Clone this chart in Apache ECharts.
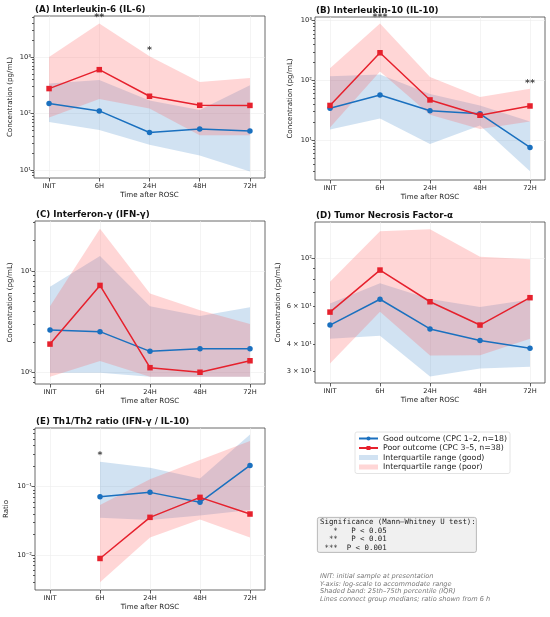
<!DOCTYPE html>
<html>
<head>
<meta charset="utf-8">
<script src="https://cdn.jsdelivr.net/npm/echarts@6/dist/echarts.min.js"></script>
<style>
  html, body { margin: 0; padding: 0; background: #fff; }
  #chart { width: 550px; height: 617px; }
</style>
</head>
<body>
<div id="chart"></div>
<script>
// Time points on the x axis
const timePoints = ['INIT', '6H', '24H', '48H', '72H'];

// (A) IL-6, pg/mL: median, 25th, 75th percentile
const il6GoodMed = [150, 111, 46, 53, 49];
const il6GoodLo = [71, 51, 28, 18, 9.4];
const il6GoodHi = [340, 390, 170, 115, 316];
const il6PoorMed = [276, 597, 202, 140, 139];
const il6PoorLo = [85, 180, 122, 41, 41];
const il6PoorHi = [1000, 3900, 1030, 360, 425];
const il6Sig = [[1, 5500, '**'], [2, 1430, '*']];

// (B) IL-10
const il10GoodMed = [34, 57, 31, 27.5, 7.5];
const il10GoodLo = [15, 23, 8.6, 17.5, 3.0];
const il10GoodHi = [117, 125, 59, 38, 20.5];
const il10PoorMed = [38, 290, 47, 26, 37.2];
const il10PoorLo = [16.2, 141, 26.6, 15.3, 20.5];
const il10PoorHi = [159, 900, 114, 52.5, 72];
const il10Sig = [[1, 1260, '***'], [4, 99, '**']];

// (C) IFN-gamma
const ifnGoodMed = [2.63, 2.53, 1.62, 1.72, 1.72];
const ifnGoodLo = [1.0, 1.0, 0.91, 0.91, 0.91];
const ifnGoodHi = [7.0, 14, 4.5, 3.6, 4.4];
const ifnPoorMed = [1.91, 7.2, 1.12, 1.01, 1.31];
const ifnPoorLo = [0.91, 1.3, 0.91, 0.91, 0.91];
const ifnPoorHi = [4.5, 26, 6.0, 4.1, 3.0];

// (D) TNF-alpha
const tnfGoodMed = [49.3, 64.9, 47.3, 41.8, 38.5];
const tnfGoodLo = [42.6, 44, 28.5, 31, 31.6];
const tnfGoodHi = [62, 77, 65, 59.7, 64.7];
const tnfPoorMed = [56.6, 88.6, 63.2, 49.3, 66];
const tnfPoorLo = [32.7, 56.8, 35.6, 35.7, 42.6];
const tnfPoorHi = [78.3, 134, 137, 102, 99.3];

// (E) Th1/Th2 ratio, no value at INIT
const ratioGoodMed = [null, 0.0714, 0.0826, 0.059, 0.205];
const ratioGoodLo = [null, 0.035, 0.0325, 0.038, 0.0455];
const ratioGoodHi = [null, 0.232, 0.19, 0.132, 0.58];
const ratioPoorMed = [null, 0.0089, 0.0356, 0.0698, 0.0398];
const ratioPoorLo = [null, 0.004, 0.018, 0.033, 0.018];
const ratioPoorHi = [null, 0.054, 0.128, 0.245, 0.466];
const ratioSig = [[1, 0.311, '*']];

const goodName = 'Good outcome (CPC 1–2, n=18)';
const poorName = 'Poor outcome (CPC 3–5, n=38)';
const bandGoodName = 'Interquartile range (good)';
const bandPoorName = 'Interquartile range (poor)';

const sigLines = [
    'Significance (Mann–Whitney U test):',
    '   *   P < 0.05',
    '  **   P < 0.01',
    ' ***  P < 0.001'
];
const noteLines = [
    'INIT: initial sample at presentation',
    'Y-axis: log-scale to accommodate range',
    'Shaded band: 25th–75th percentile (IQR)',
    'Lines connect group medians; ratio shown from 6 h'
];

const GOOD = '#1a70bf';
const POOR = '#e6212d';
const GOOD_BAND = 'rgba(26,112,191,0.2)';
const POOR_BAND = 'rgba(255,90,90,0.25)';
const FONT = 'DejaVu Sans';

const panels = [
    { title: '(A) Interleukin-6 (IL-6)', left: 34, top: 16, width: 231, height: 162,
      yMin: 0.858, yMax: 3.726, labels: [1, 2, 3], yName: 'Concentration (pg/mL)', nameGap: 20,
      good: [il6GoodMed, il6GoodLo, il6GoodHi], poor: [il6PoorMed, il6PoorLo, il6PoorHi], sig: il6Sig },
    { title: '(B) Interleukin-10 (IL-10)', left: 315, top: 17, width: 230, height: 163,
      yMin: 0.33, yMax: 3.062, labels: [1, 2, 3], yName: 'Concentration (pg/mL)', nameGap: 21,
      good: [il10GoodMed, il10GoodLo, il10GoodHi], poor: [il10PoorMed, il10PoorLo, il10PoorHi], sig: il10Sig },
    { title: '(C) Interferon-γ (IFN-γ)', left: 35, top: 221, width: 230, height: 163,
      yMin: -0.111, yMax: 1.49, labels: [0, 1], yName: 'Concentration (pg/mL)', nameGap: 21,
      good: [ifnGoodMed, ifnGoodLo, ifnGoodHi], poor: [ifnPoorMed, ifnPoorLo, ifnPoorHi], sig: [] },
    { title: '(D) Tumor Necrosis Factor-α', left: 315, top: 222, width: 230, height: 161,
      yMin: 1.4245, yMax: 2.17, labels: [Math.log10(30), Math.log10(40), Math.log10(60), 2],
      yName: 'Concentration (pg/mL)', nameGap: 33,
      good: [tnfGoodMed, tnfGoodLo, tnfGoodHi], poor: [tnfPoorMed, tnfPoorLo, tnfPoorHi], sig: [] },
    { title: '(E) Th1/Th2 ratio (IFN-γ / IL-10)', left: 35, top: 428, width: 230, height: 162,
      yMin: -2.512, yMax: -0.141, labels: [-2, -1], yName: 'Ratio', nameGap: 25,
      good: [ratioGoodMed, ratioGoodLo, ratioGoodHi], poor: [ratioPoorMed, ratioPoorLo, ratioPoorHi], sig: ratioSig }
];

const sup = { '-': '⁻', '0': '⁰', '1': '¹', '2': '²', '3': '³', '4': '⁴', '5': '⁵', '6': '⁶', '7': '⁷', '8': '⁸', '9': '⁹' };

function logLabel(v) {
    const e = Math.floor(v + 1e-6);
    const m = Math.round(Math.pow(10, v - e));
    const p = '10' + String(e).split('').map(c => sup[c]).join('');
    return m === 1 ? p : m + ' × ' + p;
}

function majorTicks(lo, hi) {
    const out = [];
    for (let e = Math.ceil(lo); e <= Math.floor(hi); e++) out.push(e);
    return out;
}

function minorTicks(lo, hi) {
    const out = [];
    for (let e = Math.floor(lo) - 1; e <= Math.ceil(hi); e++) {
        for (let k = 2; k <= 9; k++) {
            const v = e + Math.log10(k);
            if (v > lo && v < hi) out.push(v);
        }
    }
    return out;
}

// [x, log10(value)] pairs, skipping missing points
function toPoints(values) {
    const out = [];
    values.forEach((v, i) => { if (v != null) out.push([i, Math.log10(v)]); });
    return out;
}

function toBand(lo, hi) {
    const out = [];
    lo.forEach((v, i) => { if (v != null) out.push([i, Math.log10(v), Math.log10(hi[i])]); });
    return out;
}

// Draws the whole band as one polygon from the first item
function renderBand(params, api) {
    if (params.dataIndexInside !== 0) return null;
    const n = params.dataInsideLength;
    const top = [];
    const bottom = [];
    for (let j = 0; j < n; j++) {
        top.push(api.coord([api.value(0, j), api.value(2, j)]));
        bottom.unshift(api.coord([api.value(0, j), api.value(1, j)]));
    }
    return {
        type: 'polygon',
        shape: { points: top.concat(bottom) },
        style: { fill: api.visual('color') }
    };
}

const tickStyle = { color: '#333', width: 0.8 };
const gridLine = { color: '#ececec', width: 0.6 };

const option = {
    animation: false,
    backgroundColor: '#fff',
    textStyle: { fontFamily: FONT },
    title: [],
    grid: [],
    xAxis: [],
    yAxis: [],
    series: [],
    legend: {
        left: 355, top: 432, orient: 'vertical',
        itemGap: 1.5, itemWidth: 19, itemHeight: 5,
        padding: [2.5, 3, 2.5, 3],
        borderColor: '#dddddd', borderWidth: 0.8, borderRadius: 2,
        backgroundColor: '#fff',
        textStyle: { fontSize: 7.8, color: '#222', fontFamily: FONT },
        data: [
            { name: goodName },
            { name: poorName },
            { name: bandGoodName, icon: 'rect' },
            { name: bandPoorName, icon: 'rect' }
        ]
    },
    graphic: [
        { type: 'rect', left: 317, top: 517,
          shape: { width: 159, height: 35, r: 2 },
          style: { fill: '#f0f0f0', stroke: '#aaaaaa', lineWidth: 0.8 } },
        { type: 'text', left: 320, top: 518,
          style: { text: sigLines.join('\n'), fontFamily: 'DejaVu Sans Mono', fontSize: 7.4,
                   lineHeight: 8.5, fill: '#222' } },
        { type: 'text', left: 320, top: 573,
          style: { text: noteLines.join('\n'), fontFamily: FONT, fontStyle: 'italic', fontSize: 6.6,
                   lineHeight: 7.4, fill: '#777' } }
    ]
};

panels.forEach((p, i) => {
    option.title.push({
        text: p.title, left: p.left + 1, top: p.top - 11, padding: 0,
        textStyle: { fontSize: 8.7, fontWeight: 'bold', color: '#111', fontFamily: FONT }
    });
    option.grid.push({
        left: p.left, top: p.top, width: p.width, height: p.height,
        show: true, borderColor: '#444', borderWidth: 0.8, backgroundColor: '#fff'
    });
    option.xAxis.push({
        type: 'value', gridIndex: i, min: -0.3, max: 4.3,
        axisLine: { show: false, onZero: false },
        axisTick: { customValues: [0, 1, 2, 3, 4], length: 3.5, lineStyle: tickStyle },
        axisLabel: { customValues: [0, 1, 2, 3, 4], formatter: v => timePoints[Math.round(v)],
                     fontSize: 6.7, color: '#222', margin: 5 },
        splitLine: { show: true, lineStyle: gridLine },
        name: 'Time after ROSC', nameLocation: 'middle', nameGap: 14,
        nameTextStyle: { fontSize: 7.1, color: '#222' }
    });
    const majors = majorTicks(p.yMin, p.yMax);
    option.yAxis.push({
        type: 'value', gridIndex: i, position: 'left', min: p.yMin, max: p.yMax,
        axisLine: { show: false, onZero: false },
        axisTick: { customValues: majors, length: 3.5, lineStyle: tickStyle },
        axisLabel: { customValues: p.labels, formatter: logLabel, fontSize: 6.7, color: '#222', margin: 3 },
        splitLine: { show: true, lineStyle: gridLine },
        name: p.yName, nameLocation: 'middle', nameGap: p.nameGap,
        nameTextStyle: { fontSize: 7.1, color: '#222' }
    });
    // minor log ticks on an overlaid axis
    option.yAxis.push({
        type: 'value', gridIndex: i, position: 'left', min: p.yMin, max: p.yMax,
        axisLine: { show: false, onZero: false },
        axisTick: { customValues: minorTicks(p.yMin, p.yMax), length: 2, lineStyle: tickStyle },
        axisLabel: { show: false },
        splitLine: { show: false }
    });
    const yIdx = i * 2;
    option.series.push({
        name: bandGoodName, type: 'custom', xAxisIndex: i, yAxisIndex: yIdx,
        renderItem: renderBand, encode: { x: 0, y: [1, 2] },
        itemStyle: { color: GOOD_BAND }, data: toBand(p.good[1], p.good[2]), z: 1, silent: true
    });
    option.series.push({
        name: bandPoorName, type: 'custom', xAxisIndex: i, yAxisIndex: yIdx,
        renderItem: renderBand, encode: { x: 0, y: [1, 2] },
        itemStyle: { color: POOR_BAND }, data: toBand(p.poor[1], p.poor[2]), z: 2, silent: true
    });
    option.series.push({
        name: goodName, type: 'line', xAxisIndex: i, yAxisIndex: yIdx,
        data: toPoints(p.good[0]), symbol: 'circle', symbolSize: 5.5,
        lineStyle: { color: GOOD, width: 1.5 }, itemStyle: { color: GOOD }, z: 3
    });
    option.series.push({
        name: poorName, type: 'line', xAxisIndex: i, yAxisIndex: yIdx,
        data: toPoints(p.poor[0]), symbol: 'rect', symbolSize: 5.5,
        lineStyle: { color: POOR, width: 1.5 }, itemStyle: { color: POOR }, z: 4
    });
    if (p.sig.length) {
        option.series.push({
            type: 'scatter', xAxisIndex: i, yAxisIndex: yIdx, clip: false, silent: true,
            data: p.sig.map(s => [s[0], Math.log10(s[1]), s[2]]),
            symbolSize: 2, itemStyle: { color: 'rgba(0,0,0,0)' },
            label: { show: true, position: 'inside', formatter: d => d.value[2],
                     fontSize: 9.5, fontWeight: 'bold', color: '#111', offset: [0, 2.5] },
            z: 5
        });
    }
});

const chart = echarts.init(document.getElementById('chart'));
chart.setOption(option);
window.addEventListener('resize', () => chart.resize());
</script>
</body>
</html>
